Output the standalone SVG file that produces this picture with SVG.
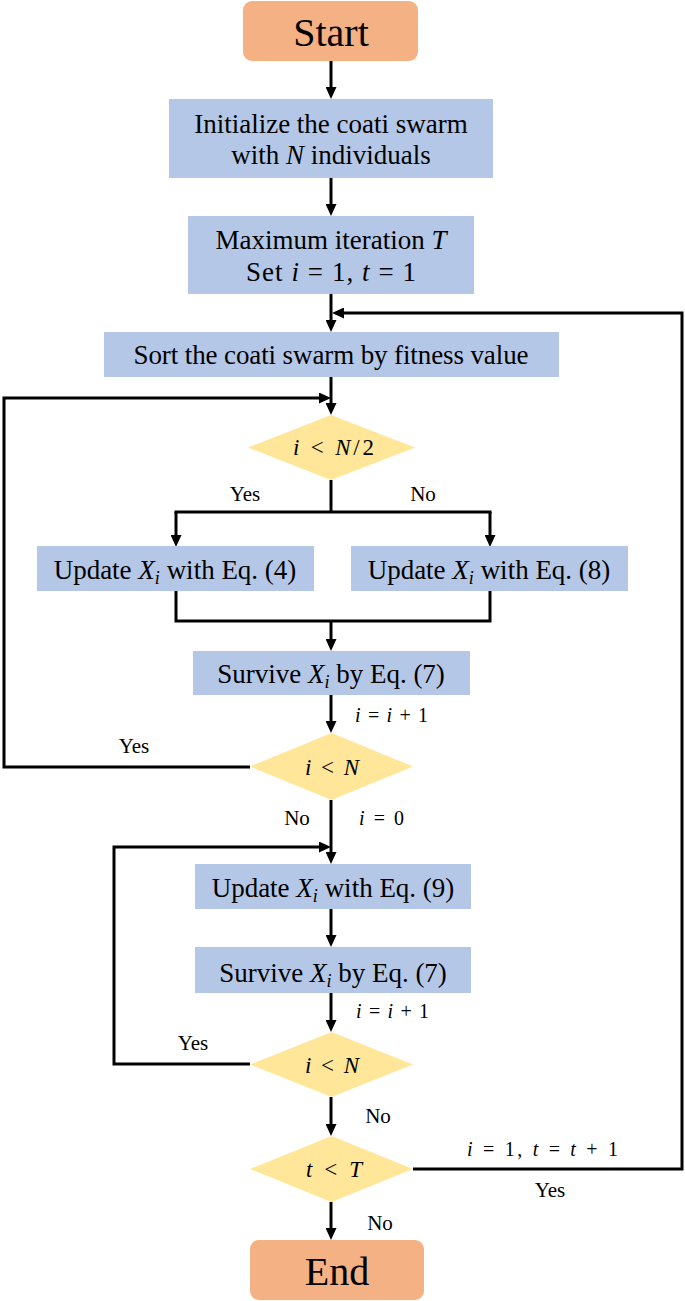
<svg xmlns="http://www.w3.org/2000/svg" width="685" height="1301" viewBox="0 0 685 1301">
<style>
.term{fill:#F4B183;}
.proc{fill:#B4C7E7;}
.dec{fill:#FFE699;}
text{font-family:"Liberation Serif","Times New Roman",serif;fill:#000;}
.big{font-size:40px;text-anchor:middle;}
.body{font-size:27px;text-anchor:middle;}
.lbl{font-size:21px;text-anchor:middle;}
.math{font-size:20px;}
.dtx{font-size:23px;}
.it{font-style:italic;}
.sub{font-size:18px;font-style:italic;}
.conn{fill:none;stroke:#000;stroke-width:3;}
</style>
<defs>
<marker id="ah" viewBox="0 0 12 11" refX="4" refY="5.5" markerWidth="12" markerHeight="11" markerUnits="userSpaceOnUse" orient="auto">
<path d="M0,0 L12,5.5 L0,11 z" fill="#000"/>
</marker>
</defs>
<rect width="685" height="1301" fill="#fff"/>
<g id="connectors">
<path class="conn" d="M331,61 V91" marker-end="url(#ah)"/>
<path class="conn" d="M331,178 V208" marker-end="url(#ah)"/>
<path class="conn" d="M331,294 V324" marker-end="url(#ah)"/>
<path class="conn" d="M413,1169 H682 V313 H340" marker-end="url(#ah)"/>
<path class="conn" d="M331,377 V407" marker-end="url(#ah)"/>
<path class="conn" d="M250,767 H4 V398 H323" marker-end="url(#ah)"/>
<path class="conn" d="M331,480 V512"/>
<path class="conn" d="M174.5,512 H491.5"/>
<path class="conn" d="M176,512 V539" marker-end="url(#ah)"/>
<path class="conn" d="M490,512 V539" marker-end="url(#ah)"/>
<path class="conn" d="M176,591 V621 H490 V591"/>
<path class="conn" d="M331,621 V643" marker-end="url(#ah)"/>
<path class="conn" d="M331,695 V725" marker-end="url(#ah)"/>
<path class="conn" d="M331,800 V856" marker-end="url(#ah)"/>
<path class="conn" d="M250,1064 H114 V847 H323" marker-end="url(#ah)"/>
<path class="conn" d="M331,909 V939" marker-end="url(#ah)"/>
<path class="conn" d="M331,993 V1024" marker-end="url(#ah)"/>
<path class="conn" d="M331,1097 V1128" marker-end="url(#ah)"/>
<path class="conn" d="M331,1202 V1232" marker-end="url(#ah)"/>
</g>
<g id="start">
<rect class="term" x="243" y="1" width="175" height="60" rx="9"/>
<text class="big" x="331" y="46">Start</text>
</g>
<g id="init">
<rect class="proc" x="169" y="99" width="324" height="79"/>
<text class="body" x="331" y="133">Initialize the coati swarm</text>
<text class="body" x="331" y="164">with <tspan class="it">N</tspan> individuals</text>
</g>
<g id="maxiter">
<rect class="proc" x="188" y="216" width="286" height="78"/>
<text class="body" x="331" y="249">Maximum  iteration <tspan class="it">T</tspan></text>
<text class="body" x="331" y="281" textLength="170" lengthAdjust="spacing">Set <tspan class="it">i</tspan> = 1, <tspan class="it">t</tspan> = 1</text>
</g>
<g id="sort">
<rect class="proc" x="104" y="332" width="455" height="45"/>
<text class="body" x="331" y="364" textLength="395" lengthAdjust="spacing">Sort the coati swarm by fitness value</text>
</g>
<g id="dec1">
<polygon class="dec" points="331,415 415,447.5 331,480 248,447.5"/>
<text class="dtx" x="293" y="455" textLength="81" lengthAdjust="spacing"><tspan class="it">i</tspan> &lt; <tspan class="it">N</tspan>/2</text>
</g>
<text class="lbl" x="245" y="501">Yes</text>
<text class="lbl" x="423" y="501">No</text>
<g id="upd4">
<rect class="proc" x="37" y="546" width="277" height="45"/>
<text class="body" x="175" y="579">Update <tspan class="it">X</tspan><tspan class="sub" dy="5">i</tspan><tspan dy="-5"> with Eq. (4)</tspan></text>
</g>
<g id="upd8">
<rect class="proc" x="351" y="546" width="277" height="45"/>
<text class="body" x="489" y="579">Update <tspan class="it">X</tspan><tspan class="sub" dy="5">i</tspan><tspan dy="-5"> with Eq. (8)</tspan></text>
</g>
<g id="surv1">
<rect class="proc" x="193" y="651" width="277" height="44"/>
<text class="body" x="331" y="683">Survive <tspan class="it">X</tspan><tspan class="sub" dy="5">i</tspan><tspan dy="-5"> by Eq. (7)</tspan></text>
</g>
<text class="math" x="355" y="722" textLength="73" lengthAdjust="spacing"><tspan class="it">i</tspan> = <tspan class="it">i</tspan> + 1</text>
<g id="dec2">
<polygon class="dec" points="331.5,733 413,766.5 331.5,800 250,766.5"/>
<text class="dtx" x="305" y="775" textLength="54" lengthAdjust="spacing"><tspan class="it">i</tspan> &lt; <tspan class="it">N</tspan></text>
</g>
<text class="lbl" x="134" y="753">Yes</text>
<text class="lbl" x="297" y="825">No</text>
<text class="math" x="359" y="825" textLength="45" lengthAdjust="spacing"><tspan class="it">i</tspan> = 0</text>
<g id="upd9">
<rect class="proc" x="195" y="864" width="276" height="45"/>
<text class="body" x="333" y="897">Update <tspan class="it">X</tspan><tspan class="sub" dy="5">i</tspan><tspan dy="-5"> with Eq. (9)</tspan></text>
</g>
<g id="surv2">
<rect class="proc" x="195" y="947" width="276" height="46"/>
<text class="body" x="333" y="982">Survive <tspan class="it">X</tspan><tspan class="sub" dy="5">i</tspan><tspan dy="-5"> by Eq. (7)</tspan></text>
</g>
<text class="math" x="356" y="1018" textLength="73" lengthAdjust="spacing"><tspan class="it">i</tspan> = <tspan class="it">i</tspan> + 1</text>
<g id="dec3">
<polygon class="dec" points="331.5,1032 413,1064.5 331.5,1097 250,1064.5"/>
<text class="dtx" x="305" y="1073" textLength="54" lengthAdjust="spacing"><tspan class="it">i</tspan> &lt; <tspan class="it">N</tspan></text>
</g>
<text class="lbl" x="193" y="1050">Yes</text>
<text class="lbl" x="378" y="1123">No</text>
<g id="dec4">
<polygon class="dec" points="331.5,1136 413,1169 331.5,1202 250,1169"/>
<text class="dtx" x="306" y="1177" textLength="56" lengthAdjust="spacing"><tspan class="it">t</tspan> &lt; <tspan class="it">T</tspan></text>
</g>
<text class="math" x="467" y="1156" textLength="151" lengthAdjust="spacing"><tspan class="it">i</tspan> = 1, <tspan class="it">t</tspan> = <tspan class="it">t</tspan> + 1</text>
<text class="lbl" x="550" y="1197">Yes</text>
<text class="lbl" x="380" y="1230">No</text>
<g id="end">
<rect class="term" x="250" y="1240" width="174" height="60" rx="9"/>
<text class="big" x="337" y="1285">End</text>
</g>
</svg>
